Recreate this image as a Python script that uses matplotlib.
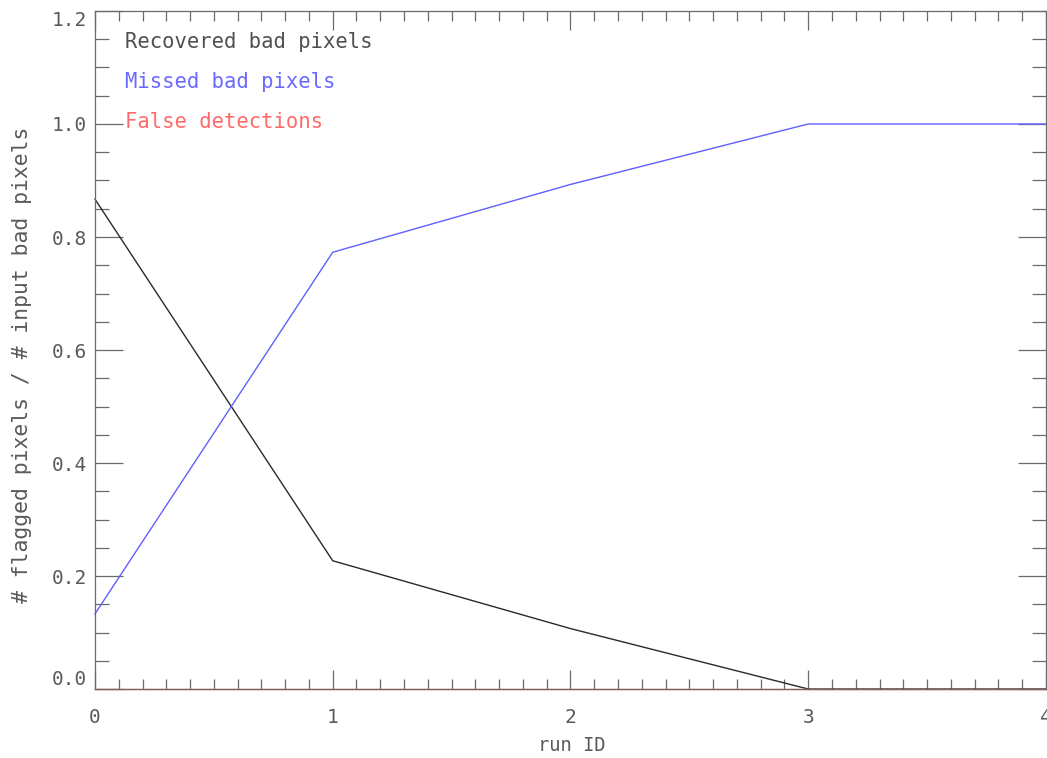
"""Bad pixel recovery fractions versus run ID."""

import matplotlib
matplotlib.use("Agg")
import matplotlib.pyplot as plt
from matplotlib.ticker import MultipleLocator

run_id = [0, 1, 2, 3, 4]
recovered = [0.867, 0.227, 0.107, 0.0, 0.0]
missed = [0.133, 0.773, 0.893, 1.0, 1.0]
false_det = [0.0, 0.0, 0.0, 0.0, 0.0]

series_labels = ["Recovered bad pixels", "Missed bad pixels", "False detections"]
line_colors = ["#2a2a2a", "#6060ff", "#ff5a5a"]
text_colors = ["#505050", "#6a6aff", "#ff6a6a"]

AXIS_GRAY = "#6a6a6a"
TEXT_GRAY = "#5a5a5a"
FONT = "DejaVu Sans Mono"

fig = plt.figure(figsize=(10.47, 7.58), dpi=100)
ax = fig.add_axes([0.0907, 0.091, 0.9083, 0.8945])

for ys, col in zip([recovered, missed, false_det], line_colors):
    ax.plot(run_id, ys, color=col, lw=1.0, clip_on=False)

ax.set_xlim(0, 4)
ax.set_ylim(0, 1.2)
ax.xaxis.set_major_locator(MultipleLocator(1))
ax.xaxis.set_minor_locator(MultipleLocator(0.1))
ax.yaxis.set_major_locator(MultipleLocator(0.2))
ax.yaxis.set_minor_locator(MultipleLocator(0.05))
ax.xaxis.set_major_formatter(plt.FuncFormatter(lambda v, p: f"{v:.0f}"))
ax.yaxis.set_major_formatter(plt.FuncFormatter(lambda v, p: f"{v:.1f}"))

ax.tick_params(which="both", direction="in", top=True, right=True,
               color=AXIS_GRAY, labelcolor=TEXT_GRAY, labelsize=14, width=0.9)
ax.tick_params(axis="x", which="major", length=14, pad=14)
ax.tick_params(axis="x", which="minor", length=7)
ax.tick_params(axis="y", which="major", length=20, pad=6)
ax.tick_params(axis="y", which="minor", length=10)
for lab in ax.get_xticklabels() + ax.get_yticklabels():
    lab.set_family(FONT)

for sp in ax.spines.values():
    sp.set_color(AXIS_GRAY)
    sp.set_linewidth(0.9)

ax.set_xlabel("run ID", color=TEXT_GRAY, fontsize=13.5, family=FONT)
ax.xaxis.set_label_coords(0.5016, -0.070)
ax.set_ylabel("# flagged pixels / # input bad pixels", color=TEXT_GRAY,
              fontsize=15.4, family=FONT)
ax.yaxis.set_label_coords(-0.066, 0.478)

# labels stacked in the upper left, one per series
for i, (lab, col) in enumerate(zip(series_labels, text_colors)):
    ax.text(0.128, 1.145 - 0.0705 * i, lab, color=col, fontsize=14.8,
            family=FONT, va="center", ha="left")

# keep the end labels of the y axis inside the frame height
fig.canvas.draw()
for tick in ax.yaxis.get_major_ticks():
    if tick.label1.get_text() == "0.0":
        tick.label1.set_va("bottom")
    elif tick.label1.get_text() == "1.2":
        tick.label1.set_va("top")

fig.savefig("out.png", dpi=100)
